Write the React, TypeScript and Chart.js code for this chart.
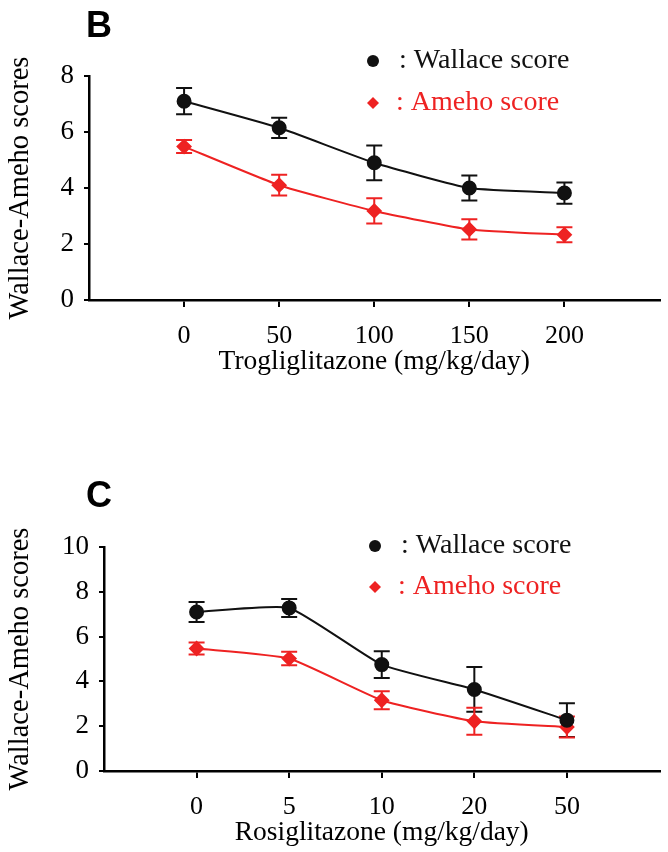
import React, { useEffect, useRef } from 'react';
import { Chart, registerables } from 'chart.js';

Chart.register(...registerables);

// ---------- Data ----------
const trogDoses = ['0', '50', '100', '150', '200'];
const trogWallace = [7.1, 6.15, 4.9, 4.0, 3.82];
const trogWallaceErr = [0.47, 0.36, 0.62, 0.45, 0.38];
const trogAmeho = [5.48, 4.1, 3.18, 2.52, 2.33];
const trogAmehoErr = [0.23, 0.37, 0.45, 0.36, 0.27];

const rosiDoses = ['0', '5', '10', '20', '50'];
const rosiWallace = [7.1, 7.28, 4.75, 3.64, 2.27];
const rosiWallaceErr = [0.45, 0.4, 0.6, 1.0, 0.75];
const rosiAmeho = [5.47, 5.02, 3.16, 2.22, 1.96];
const rosiAmehoErr = [0.27, 0.3, 0.4, 0.6, 0.47];

const trogYTicks = [0, 2, 4, 6, 8];
const rosiYTicks = [0, 2, 4, 6, 8, 10];

const BLACK = '#111111';
const RED = '#ee2222';
const SERIF = '"Liberation Serif", "Times New Roman", serif';

type PanelProps = {
  letter: string;
  doses: string[];
  wallace: number[];
  wallaceErr: number[];
  ameho: number[];
  amehoErr: number[];
  yTicks: number[];
  xTitle: string;
  top: number;
  height: number;
  padTop: number;
  padBottom: number;
  yWidth: number;
  letterBaseline: number;
  legendY: [number, number];
  legendX: number;
};

const errorBarPlugin = {
  id: 'errorBars',
  beforeDatasetsDraw(chart: any) {
    const ctx = chart.ctx;
    const xs = chart.scales.x;
    const ys = chart.scales.y;
    chart.data.datasets.forEach((ds: any) => {
      const errs: number[] = ds.errors;
      if (!errs) return;
      ctx.save();
      ctx.strokeStyle = ds.borderColor;
      ctx.lineWidth = 2;
      ds.data.forEach((pt: any, i: number) => {
        const x = xs.getPixelForValue(pt.x);
        const yT = ys.getPixelForValue(pt.y + errs[i]);
        const yB = ys.getPixelForValue(pt.y - errs[i]);
        ctx.beginPath();
        ctx.moveTo(x, yT);
        ctx.lineTo(x, yB);
        ctx.moveTo(x - 8, yT);
        ctx.lineTo(x + 8, yT);
        ctx.moveTo(x - 8, yB);
        ctx.lineTo(x + 8, yB);
        ctx.stroke();
      });
      ctx.restore();
    });
  },
};

function Panel(p: PanelProps) {
  const ref = useRef<HTMLCanvasElement>(null);
  useEffect(() => {
    if (!ref.current) return;
    const overlay = {
      id: 'overlay',
      afterDraw(chart: any) {
        const ctx = chart.ctx;
        ctx.save();
        // panel letter
        ctx.fillStyle = '#000';
        ctx.font = 'bold 36px "Liberation Sans", Arial, sans-serif';
        ctx.textBaseline = 'alphabetic';
        ctx.textAlign = 'left';
        ctx.fillText(p.letter, 86, p.letterBaseline);
        // legend
        ctx.font = `28px ${SERIF}`;
        ctx.textBaseline = 'middle';
        const mx = p.legendX;
        // Wallace: circle
        ctx.fillStyle = BLACK;
        ctx.beginPath();
        ctx.arc(mx, p.legendY[0], 6, 0, Math.PI * 2);
        ctx.fill();
        ctx.fillText(': Wallace score', mx + 26, p.legendY[0]);
        // Ameho: diamond
        ctx.fillStyle = RED;
        ctx.beginPath();
        const y2 = p.legendY[1];
        ctx.moveTo(mx, y2 - 6);
        ctx.lineTo(mx + 6, y2);
        ctx.lineTo(mx, y2 + 6);
        ctx.lineTo(mx - 6, y2);
        ctx.closePath();
        ctx.fill();
        ctx.fillText(': Ameho score', mx + 23, y2);
        ctx.restore();
      },
    };
    const chart = new Chart(ref.current, {
      type: 'line',
      data: {
        datasets: [
          {
            label: 'Wallace score',
            data: p.wallace.map((v, i) => ({ x: i, y: v })),
            errors: p.wallaceErr,
            borderColor: BLACK,
            backgroundColor: BLACK,
            borderWidth: 2,
            pointStyle: 'circle',
            pointRadius: 6.5,
            pointBackgroundColor: BLACK,
            pointBorderColor: BLACK,
            tension: 0.15,
          } as any,
          {
            label: 'Ameho score',
            data: p.ameho.map((v, i) => ({ x: i, y: v })),
            errors: p.amehoErr,
            borderColor: RED,
            backgroundColor: RED,
            borderWidth: 2,
            pointStyle: 'rectRot',
            pointRadius: 6.5,
            pointBackgroundColor: RED,
            pointBorderColor: RED,
            tension: 0.15,
          } as any,
        ],
      },
      options: {
        animation: false,
        responsive: false,
        devicePixelRatio: 1,
        layout: { padding: { left: 0, right: 8, top: p.padTop, bottom: p.padBottom } },
        plugins: {
          legend: { display: false },
          tooltip: { enabled: false },
          title: { display: false },
        },
        scales: {
          x: {
            type: 'linear',
            min: -1,
            max: 5,
            afterBuildTicks: (scale: any) => {
              scale.ticks = p.doses.map((_, i) => ({ value: i }));
            },
            afterFit: (scale: any) => {
              scale.height = 78;
            },
            ticks: {
              color: '#000',
              font: { family: SERIF, size: 26 },
              padding: 14,
              maxRotation: 0,
              autoSkip: false,
              callback: (v: any) => p.doses[v as number] ?? '',
            },
            grid: {
              display: true,
              drawOnChartArea: false,
              drawTicks: true,
              tickLength: 7,
              color: '#000',
              lineWidth: 2,
            },
            border: { display: true, color: '#000', width: 2.5 },
            title: {
              display: true,
              text: p.xTitle,
              color: '#000',
              font: { family: SERIF, size: 27.5 },
              padding: { top: 0, bottom: 0 },
            },
          },
          y: {
            type: 'linear',
            min: p.yTicks[0],
            max: p.yTicks[p.yTicks.length - 1],
            afterBuildTicks: (scale: any) => {
              scale.ticks = p.yTicks.map((v) => ({ value: v }));
            },
            afterFit: (scale: any) => {
              scale.width = p.yWidth;
            },
            ticks: {
              color: '#000',
              font: { family: SERIF, size: 27 },
              padding: 10,
            },
            grid: {
              display: true,
              drawOnChartArea: false,
              drawTicks: true,
              tickLength: 5,
              color: '#000',
              lineWidth: 2,
            },
            border: { display: true, color: '#000', width: 2.5 },
            title: {
              display: true,
              text: 'Wallace-Ameho scores',
              color: '#000',
              font: { family: SERIF, size: 28.5 },
              padding: { top: 3, bottom: 0 },
            },
          },
        },
      } as any,
      plugins: [errorBarPlugin, overlay],
    });
    return () => chart.destroy();
  }, []);
  return (
    <canvas
      ref={ref}
      width={668}
      height={p.height}
      style={{ position: 'absolute', left: 0, top: p.top, width: 668, height: p.height }}
    />
  );
}

export default function App() {
  return (
    <div style={{ position: 'absolute', left: 0, top: 0, width: 668, height: 852, background: '#fff' }}>
      <Panel
        letter="B"
        doses={trogDoses}
        wallace={trogWallace}
        wallaceErr={trogWallaceErr}
        ameho={trogAmeho}
        amehoErr={trogAmehoErr}
        yTicks={trogYTicks}
        xTitle="Trogliglitazone (mg/kg/day)"
        top={0}
        height={410}
        padTop={76}
        padBottom={32}
        yWidth={89}
        letterBaseline={37}
        legendY={[61, 103]}
        legendX={373}
      />
      <Panel
        letter="C"
        doses={rosiDoses}
        wallace={rosiWallace}
        wallaceErr={rosiWallaceErr}
        ameho={rosiAmeho}
        amehoErr={rosiAmehoErr}
        yTicks={rosiYTicks}
        xTitle="Rosiglitazone (mg/kg/day)"
        top={410}
        height={442}
        padTop={137}
        padBottom={3}
        yWidth={104}
        letterBaseline={97}
        legendY={[136, 177]}
        legendX={375}
      />
    </div>
  );
}
